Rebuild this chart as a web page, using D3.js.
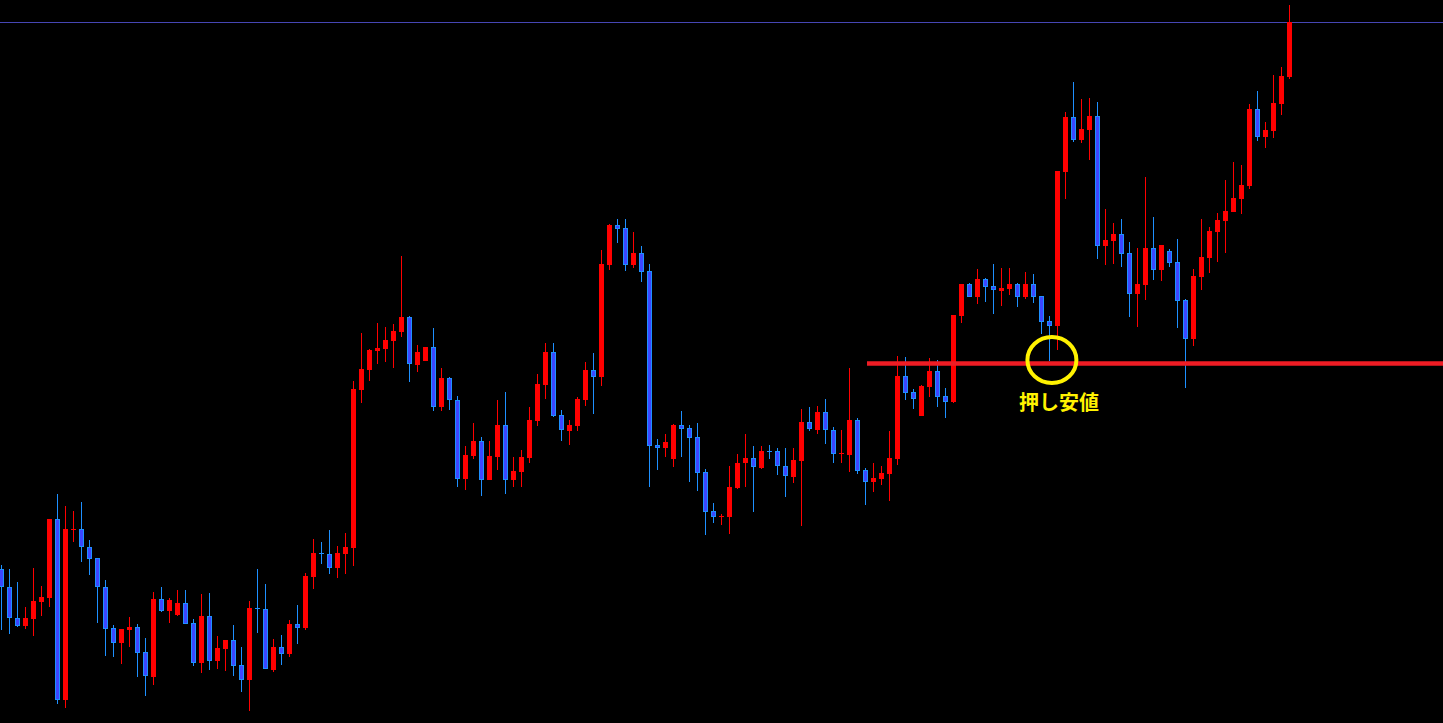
<!DOCTYPE html>
<html><head><meta charset="utf-8">
<script src="https://cdn.jsdelivr.net/npm/d3@7/dist/d3.min.js"></script>
<style>html,body{margin:0;padding:0;background:#000;overflow:hidden}</style>
</head><body>
<svg id="chart" width="1443" height="723"></svg>
<script>
// Price values (chart units, higher = up), 162 candles, 10 per line
const open = [
  154,136,105,97,104,121,125,204,23,193,
  194,176,165,136,95,80,93,96,71,46,
  124,112,108,120,100,60,107,62,74,83,
  58,43,115,114,53,76,69,99,95,146,
  170,169,155,169,175,333,353,372,374,382,
  391,406,358,362,376,316,345,323,244,267,
  282,243,266,298,243,251,265,302,338,371,
  308,292,297,323,353,346,458,498,495,458,
  470,452,278,275,264,298,295,286,251,212,
  206,206,235,260,265,255,272,272,257,246,
  262,301,293,311,293,269,268,303,253,241,
  244,249,264,347,331,307,336,352,327,321,
  407,439,426,444,437,432,434,439,426,439,
  427,402,397,551,606,583,593,607,477,482,
  489,470,429,438,475,453,472,461,423,384,
  446,465,491,502,511,524,537,614,586,592,
  619,646];
const close = [
  136,105,97,105,122,126,204,23,194,194,
  176,164,136,94,80,94,96,70,47,124,
  112,123,120,99,60,107,62,75,83,57,
  43,115,114,54,76,69,99,95,147,170,
  169,155,170,176,334,354,373,375,383,392,
  406,359,371,376,316,345,323,244,268,282,
  243,267,298,243,252,266,303,339,371,307,
  293,298,324,353,346,459,498,494,458,470,
  451,277,275,281,298,294,285,250,211,206,
  207,236,260,265,256,272,271,257,247,263,
  301,294,311,293,269,270,303,252,241,245,
  250,265,347,330,324,337,352,326,321,408,
  439,426,444,436,433,435,439,426,439,426,
  401,397,552,606,583,594,607,477,483,489,
  469,429,439,475,453,478,460,422,384,447,
  466,492,503,512,525,538,614,586,593,620,
  647,701];
const high = [
  158,154,141,116,155,137,204,229,217,212,
  221,183,165,143,98,94,106,99,85,131,
  136,125,133,133,104,129,130,87,83,98,
  76,122,154,139,84,88,103,118,150,184,
  181,193,177,190,342,390,374,400,396,399,
  467,407,378,376,395,355,346,327,277,300,
  286,282,323,331,266,273,316,349,380,380,
  313,303,326,361,370,473,499,504,504,491,
  477,459,284,289,299,312,298,300,254,220,
  209,257,269,289,277,277,278,275,275,275,
  314,316,317,324,296,293,355,305,255,260,
  257,292,367,366,334,338,365,363,335,408,
  439,440,454,445,459,455,455,440,451,449,
  427,407,552,611,641,624,625,621,514,500,
  504,481,475,546,506,478,474,484,424,454,
  504,496,510,543,561,558,619,632,601,648,
  656,718];
const low = [
  93,89,96,94,87,107,116,19,15,181,
  161,148,100,67,66,59,76,46,27,38,
  111,100,107,99,57,50,53,54,52,47,
  31,12,90,54,51,58,66,79,93,134,
  159,149,145,149,157,320,342,359,361,355,
  386,341,351,362,312,312,313,236,233,264,
  227,243,253,229,236,236,260,297,324,306,
  282,278,292,317,309,337,453,480,452,455,
  441,236,253,266,256,266,241,232,188,200,
  198,189,234,236,211,254,264,248,226,240,
  197,292,289,279,260,260,251,249,218,231,
  238,222,258,323,314,307,326,316,305,320,
  400,426,419,421,409,417,428,416,424,420,
  389,362,373,524,581,580,563,464,458,459,
  456,406,396,423,443,442,456,395,335,377,
  433,450,461,470,511,509,534,582,575,585,
  608,644];

const topLevelValue = 700.5;     // thin blue level line
const levelValue = 359.5;        // 押し安値 line
const markIndex = 131.3;         // circled candle position
const markValue = 363;
const labelText = "押し安値";

const W = 1443, H = 723;
const svg = d3.select("#chart");
svg.append("rect").attr("width", W).attr("height", H).attr("fill", "#000");

const n = open.length;
const x = d3.scaleLinear().domain([0, 161]).range([1.5, 1289.5]);
const y = d3.scaleLinear().domain([0, 723]).range([723, 0]);

const data = d3.range(n).map(i => ({i, o: open[i], h: high[i], l: low[i], c: close[i], up: close[i] >= open[i]}));

// top blue level line
svg.append("line").attr("x1", 0).attr("x2", W).attr("y1", y(topLevelValue)).attr("y2", y(topLevelValue))
  .attr("stroke", "#4646b4").attr("stroke-width", 1);

const RED = "#ff0000", BLUE_W = "#1e90ff", BLUE_F = "#3c46ff";

const g = svg.append("g");
g.selectAll("line.wick").data(data).join("line")
  .attr("class", "wick")
  .attr("x1", d => x(d.i)).attr("x2", d => x(d.i))
  .attr("y1", d => Math.round(y(d.h))).attr("y2", d => Math.round(y(d.l)))
  .attr("stroke", d => d.up ? RED : BLUE_W).attr("stroke-width", 1);

g.selectAll("rect.body").data(data).join("rect")
  .attr("class", "body")
  .each(function(d) {
    const top = Math.round(y(Math.max(d.o, d.c)));
    const bot = Math.round(y(Math.min(d.o, d.c)));
    const h = Math.max(1, bot - top);
    const s = d3.select(this);
    if (d.up) {
      s.attr("x", x(d.i) - 2.5).attr("width", 5).attr("y", top).attr("height", h)
       .attr("fill", RED);
    } else if (h <= 2) {
      s.attr("x", x(d.i) - 2.5).attr("width", 5).attr("y", top).attr("height", h)
       .attr("fill", BLUE_W);
    } else {
      s.attr("x", x(d.i) - 2).attr("width", 4).attr("y", top + 0.5).attr("height", h - 1)
       .attr("fill", BLUE_F).attr("stroke", BLUE_W).attr("stroke-width", 1);
    }
  });

// red support line
svg.append("line").attr("x1", 867).attr("x2", W)
  .attr("y1", y(levelValue)).attr("y2", y(levelValue))
  .attr("stroke", "#ee1c24").attr("stroke-width", 4.6);

// yellow circle
svg.append("ellipse").attr("cx", x(markIndex)).attr("cy", y(markValue))
  .attr("rx", 24.5).attr("ry", 23).attr("fill", "none")
  .attr("stroke", "#fff200").attr("stroke-width", 4);

// label
svg.append("text").attr("x", 1059).attr("y", 410)
  .attr("text-anchor", "middle")
  .attr("font-family", "'Noto Sans CJK JP', sans-serif")
  .attr("font-weight", "bold").attr("font-size", 20)
  .attr("fill", "#fff200").text(labelText);
</script>
</body></html>
